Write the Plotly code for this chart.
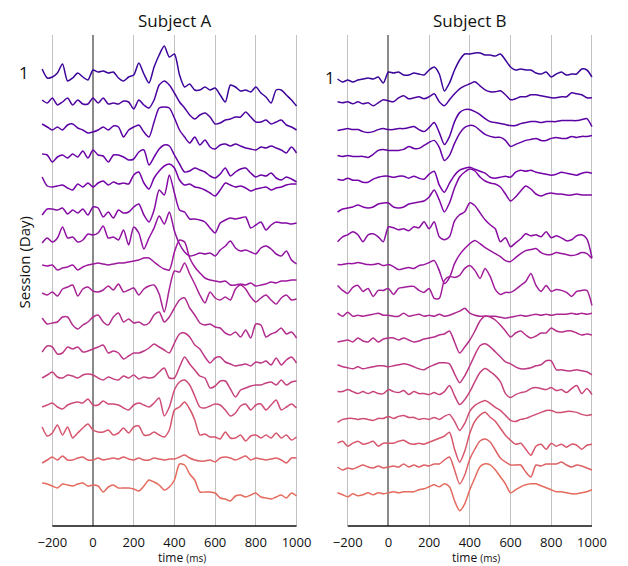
import plotly.graph_objects as go
from plotly.colors import sample_colorscale
import plotly.express as px

# Sample times (ms) shared by every session trace
time_ms = list(range(-250, 1001, 25))

# Tick positions / labels on the time axis
tick_vals = [-200, 0, 200, 400, 600, 800, 1000]
tick_text = ["\u2212200", "0", "200", "400", "600", "800", "1000"]

# ---- Subject A: averaged responses per session (amplitude, arbitrary units) ----
a_day01 = [-1, -10, -9, -5, 4, -13, -10, -5, -9, -12, -2, -4, -3, -5, -4, -10, -13, -9, -7, 5,
           -6, -15, 1, 13, 22, 11, 14, -7, -19, -16, -22, -22, -19, -22, -20, -27, -34, -17, -19, -23,
           -22, -24, -19, -25, -29, -35, -22, -22, -27, -32, -38]
a_day02 = [-4, -7, -2, -9, -6, -2, -9, -4, -8, -8, -2, -7, -2, -8, -7, -8, -5, -6, -13, -4,
           -9, -12, -4, 11, 15, 11, 3, -6, -12, -19, -23, -19, -17, -21, -28, -27, -24, -23, -21, -21,
           -16, -21, -26, -26, -24, -28, -26, -24, -29, -31, -34]
a_day03 = [0, -3, -6, -3, -6, -1, 0, -4, -6, -9, -8, -6, -3, -6, -2, -3, -13, -6, -3, -1,
           -8, -13, 2, 16, 17, 16, 6, -6, -13, -19, -13, -21, -16, -23, -25, -21, -20, -22, -20, -22,
           -24, -25, -26, -23, -24, -22, -24, -26, -29, -23, -29]
a_day04 = [-2, -3, -10, -5, -3, -6, -2, -5, 1, -6, 2, -3, -4, -10, -3, -3, -5, -8, -7, 0,
           2, -13, -5, 3, 7, 6, -3, -12, -20, -19, -16, -18, -20, -24, -26, -22, -16, -24, -20, -17,
           -16, -21, -25, -23, -24, -21, -26, -28, -25, -27, -30]
a_day05 = [3, -6, -7, -6, -5, -8, -10, -4, -7, -3, -7, -3, -1, -5, -2, -4, -3, -4, 5, 8,
           -3, -9, 2, 9, 14, 16, 12, 0, -5, -4, -7, -8, -10, -13, -16, -10, -3, -5, -7, -6,
           -8, -11, -9, -8, -7, -10, -8, -7, -5, -4, -4]
a_day06 = [-7, -1, -1, -2, 0, -6, -2, -5, -1, -7, 1, 0, -9, -4, -10, -2, -5, -4, 1, 4,
           -7, -14, -2, 18, 13, 33, 15, -2, -4, -11, -11, -12, -14, -20, -25, -15, -12, -10, -11, -10,
           -9, -20, -17, -14, -22, -17, -14, -15, -15, -16, -15]
a_day07 = [-7, -2, -6, -2, 9, -2, -1, -6, -4, 2, 1, 3, 10, -2, -1, -4, 6, -9, 9, 3,
           -13, -2, 8, 20, 12, 24, 5, -8, -16, -20, -19, -17, -18, -17, -20, -14, -10, -5, -12, -15,
           -14, -16, -18, -12, -10, -13, -18, -20, -15, -24, -28]
a_day08 = [-1, -2, -1, -6, -4, -3, -1, -6, -3, -1, 0, 1, 0, -1, 0, 1, 1, 2, 3, 4,
           6, 6, 2, -2, -5, -6, 12, 24, 22, 6, -3, -9, -14, -16, -17, -18, -17, -21, -21, -20,
           -21, -19, -22, -21, -20, -18, -19, -17, -17, -16, -16]
a_day09 = [-1, -3, 0, -4, 3, 5, 7, -4, 3, 5, 1, 0, 2, 6, 2, 8, 0, 2, 4, -3,
           3, 6, 7, -2, -20, 3, 21, 20, 29, 18, 8, -3, -11, 0, -6, -8, -5, -8, 3, 7,
           3, -5, -10, -6, -3, -8, -12, -6, -3, -8, -7]
a_day10 = [2, -4, -3, -2, 3, 3, -5, -9, -5, -2, 3, 5, -2, -5, 3, 7, -2, 1, -3, -2,
           -5, -3, 5, 8, -2, 3, 12, 20, 22, 12, 5, -3, -5, -4, -7, -8, -13, -15, -12, -17,
           -10, -18, -4, -5, -17, -14, -12, -8, -14, -12, -18]
a_day11 = [-4, 2, 1, -6, -5, 1, -1, 1, -4, -3, -1, 1, 3, -5, -3, -5, -11, -8, -5, -5,
           -3, 0, 4, 1, -2, -5, 5, 14, 15, 11, 3, -1, -9, -15, -10, -9, -14, -16, -18, -17,
           -16, -18, -14, -15, -13, -17, -10, -17, -12, -9, -15]
a_day12 = [-2, 1, 4, -1, -2, 1, 0, -2, 1, 2, 1, -2, -4, -1, -3, -4, 0, -2, 1, -3,
           -1, -2, -1, 4, 8, -2, -2, 9, 19, 12, 6, 0, -2, -12, -10, -5, -5, -13, -21, -14,
           -12, -10, -9, -9, -7, -6, -9, -4, -9, -6, -5]
a_day13 = [-3, -1, 1, -3, -5, -1, 1, 2, 1, 5, -1, -1, 3, 0, 0, -1, -4, -6, -1, 1,
           -1, -3, 1, 6, -12, -3, 14, 22, 24, 19, 8, -3, -4, -2, 0, -1, -6, -12, -9, -2,
           0, -6, -1, 0, -6, -1, 4, -6, -3, 0, -4]
a_day14 = [5, -4, -1, 7, -3, 5, -6, -1, 4, 8, 2, 0, 0, 2, -3, -1, 4, -1, 5, 6,
           -3, -3, 0, -3, -5, 2, 22, 25, 30, 23, 12, -3, -2, -5, -5, -7, 0, -6, -6, -3,
           -9, -4, -3, -6, -3, -6, -1, -6, -3, -8, -5]
a_day15 = [-3, 0, 3, 0, 4, 0, 0, 2, 3, 0, 0, 2, 0, 1, 2, 1, 3, 1, 0, 2,
           0, 0, 2, 1, 0, 1, 1, 3, 5, 2, 0, -1, -1, 0, -2, 2, 3, 2, 0, 2,
           4, 0, 2, 1, 0, 1, 2, 0, -3, 2, 2]
a_day16 = [5, 4, 2, 0, 4, 3, 2, 4, 5, 2, 3, 2, -4, 1, 3, 0, 0, 0, -1, -3,
           2, 8, 6, 3, -2, 1, 8, 24, 23, 14, 8, -4, -4, -4, -5, -10, -11, -13, -8, -7,
           -9, -7, -5, -9, -10, -11, -9, -7, -10, -5, -8]

# ---- Subject B ----
b_day01 = [1, -2, 0, -2, 0, 1, 2, 1, 3, -3, 8, 7, 8, 5, 5, 7, 6, 5, 10, 13,
           6, -11, -3, 10, 20, 26, 26, 27, 27, 25, 25, 24, 26, 20, 13, 10, 11, 10, 10, 7,
           6, 8, 3, 6, 8, 5, 6, 6, 11, 10, 3]
b_day02 = [4, 3, 4, 2, 4, 2, 3, 0, 3, 6, 5, 4, 8, 10, 7, 8, 9, 7, 9, 12,
           4, 0, 6, 12, 17, 20, 22, 24, 20, 16, 14, 14, 15, 11, 6, 7, 9, 9, 11, 11,
           10, 9, 8, 8, 9, 9, 13, 12, 11, 8, 8]
b_day03 = [1, 2, 3, 2, 2, 0, -1, 0, 2, 3, 2, 2, 3, 3, 4, 5, 2, 0, 4, 9,
           -1, -13, -5, 10, 19, 22, 22, 20, 17, 13, 10, 9, 8, 7, 6, 6, 8, 9, 10, 10,
           9, 10, 10, 10, 11, 11, 11, 11, 12, 13, 5]
b_day04 = [2, 1, 2, 1, 1, 1, 0, 3, 7, 8, 7, 7, 7, 8, 11, 9, 9, 12, 15, 17,
           10, -3, 2, 14, 24, 30, 32, 31, 27, 23, 21, 20, 20, 17, 11, 13, 15, 17, 18, 19,
           17, 17, 19, 20, 19, 19, 21, 20, 21, 21, 22]
b_day05 = [4, 3, 5, 3, 3, 1, 1, 4, 6, 7, 7, 6, 7, 7, 5, 7, 5, 4, 9, 12,
           -2, -9, 0, 8, 13, 15, 16, 14, 12, 10, 6, 5, 6, 7, 6, 11, 13, 12, 13, 11,
           10, 9, 8, 9, 11, 10, 9, 8, 10, 11, 10]
b_day06 = [-3, 0, 1, 2, 4, 2, 1, 2, 5, 6, 6, 2, 1, 2, 5, 6, 7, 8, 12, 19,
           9, -3, 6, 21, 32, 37, 40, 38, 32, 28, 26, 25, 22, 15, 8, 12, 18, 23, 20, 15,
           13, 15, 16, 15, 15, 14, 14, 15, 14, 14, 14]
b_day07 = [-7, -2, 0, 3, 0, -7, 0, 1, -2, -7, 8, 7, 5, 6, 4, 8, 7, 13, 6, 13,
           -2, -5, -2, 14, 20, 23, 32, 29, 22, 15, 10, 6, -7, -3, -12, -8, -4, 1, -1, 0,
           -2, 3, -3, -1, -3, -6, -5, -1, 0, -4, -23]
b_day08 = [-4, -4, -3, -3, -2, -3, -4, -4, -3, -5, -4, -6, -9, -8, -7, -8, -5, -4, -2, 0,
           -10, -23, -17, -3, 6, 12, 17, 20, 17, 13, 10, 7, 4, 0, -1, 3, 7, 10, 11, 12,
           8, 6, 6, 8, 7, 6, 5, 6, 8, 7, 2]
b_day09 = [1, -4, -7, -1, 1, -5, -2, -10, -4, -4, -2, -8, -2, -1, 0, 0, -4, -6, -2, -12,
           -12, 6, 10, 9, 11, 18, 21, 16, 8, 18, 10, -3, -8, -6, -6, -3, 1, 5, 13, 1,
           -5, 1, -5, -3, -4, -6, -10, -5, -4, -4, -19]
b_day10 = [-1, -4, 0, -4, -3, -4, -3, -2, -1, -3, -3, -4, -4, -1, -4, -3, -2, -4, -3, -4,
           -2, -4, -3, -1, 1, 4, -1, -3, -4, -4, -4, -4, -5, -6, -5, -4, -3, -4, -3, -2,
           -3, -2, -3, -2, -2, -2, -1, -2, -1, -2, -1]
b_day11 = [-4, -3, -2, -4, 0, -3, -4, 0, -4, -1, 0, 0, -2, 0, -2, -4, -3, -1, 0, 1,
           3, 4, 7, -4, -15, -9, -2, 7, 17, 22, 21, 18, 13, 7, 1, 5, 7, 3, 0, 2,
           5, 5, 10, 7, 6, 7, 7, 5, 3, 4, 3]
b_day12 = [-1, -3, -4, -5, -3, -5, -4, -3, -2, -2, -3, -2, -1, 0, -1, -3, -5, -6, -3, -1,
           1, 1, 0, -10, -19, -12, -2, 9, 18, 20, 17, 12, 7, 2, 0, -3, -5, -5, -4, -2,
           -1, 3, 3, -6, -6, -7, -7, -6, -7, -8, -11]
b_day13 = [-2, -2, 0, -2, -4, -2, -4, -2, -4, -4, 0, -2, -3, -1, -5, -2, -4, -4, -5, -3,
           -5, -2, 4, -6, -15, -10, -2, 8, 17, 21, 18, 14, 8, -4, -8, -5, -3, -2, 1, 2,
           1, 0, 2, -1, 0, -3, 1, 4, -4, 1, -5]
b_day14 = [-7, -4, -3, -3, -4, -3, -4, -5, -3, -3, -1, -3, -1, 0, -2, -2, -4, -3, -4, -2,
           -4, -1, 1, -6, -15, -8, 4, 10, 13, 15, 12, 8, 5, 0, -5, -6, -4, -3, -1, 1,
           3, 5, 5, 3, 3, 4, 4, 3, 1, 0, 1]
b_day15 = [-2, 0, -5, -2, 0, -3, -2, 0, -5, -2, -2, -2, 0, 1, -2, -3, -2, -3, -1, 1,
           3, 5, 9, -8, -21, -10, 8, 20, 26, 29, 24, 20, 13, 6, 1, -3, -2, -8, -14, -5,
           -3, -8, -2, -5, -3, -6, -3, -4, -8, -4, -3]
b_day16 = [0, -3, -1, -2, 0, 2, 0, -1, 1, -1, 0, 1, 0, 3, 0, 2, 0, 2, 1, 3,
           3, 7, 10, -3, -17, -8, 8, 18, 26, 28, 25, 17, 9, 5, 2, 2, 2, -5, -10, 2,
           1, 3, 3, 3, 5, 2, 0, 2, 1, -1, -3]
b_day17 = [0, -2, -4, -1, -3, -2, 0, -2, 0, -1, 0, 1, 0, 1, 1, 1, 3, 4, 6, 8,
           6, 9, 6, -8, -18, -11, 3, 15, 26, 29, 28, 23, 16, 9, 0, 3, 6, 8, 9, 9,
           7, 5, 3, 1, 1, 0, -1, -1, 0, 1, 3]

subject_a = [a_day01, a_day02, a_day03, a_day04, a_day05, a_day06, a_day07, a_day08,
             a_day09, a_day10, a_day11, a_day12, a_day13, a_day14, a_day15, a_day16]
subject_b = [b_day01, b_day02, b_day03, b_day04, b_day05, b_day06, b_day07, b_day08, b_day09,
             b_day10, b_day11, b_day12, b_day13, b_day14, b_day15, b_day16, b_day17]

for series in subject_a + subject_b:
    if len(series) != len(time_ms):
        raise ValueError("series length mismatch: %d" % len(series))

# vertical gap between consecutive sessions
SPACING_A = 28.0
SPACING_B = 25.8

W, H = 628, 566
FONT = "Open Sans"


def px_x(p):
    return p / W


def px_y(p):
    return (H - p) / H


def session_colors(n):
    pos = [0.09 + 0.53 * i / (n - 1) for i in range(n)]
    return sample_colorscale(px.colors.sequential.Plasma, pos)


fig = go.Figure()

panels = [
    (subject_a, SPACING_A, "x", "y"),
    (subject_b, SPACING_B, "x2", "y2"),
]
for sessions, spacing, xa, ya in panels:
    cols = session_colors(len(sessions))
    for k, amp in enumerate(sessions):
        fig.add_trace(go.Scatter(
            x=time_ms,
            y=[v - k * spacing for v in amp],
            mode="lines",
            line=dict(color=cols[k], width=1.5, shape="spline", smoothing=0.7),
            xaxis=xa, yaxis=ya,
            showlegend=False, hoverinfo="skip",
        ))

y_dom = [px_y(526), px_y(35)]
xaxis_common = dict(
    tickvals=tick_vals, ticktext=tick_text,
    showgrid=True, gridcolor="#c2c2c2", gridwidth=1,
    zeroline=True, zerolinecolor="#8a8a8a", zerolinewidth=2.2,
    showline=False, ticks="outside", ticklen=4, tickcolor="rgba(0,0,0,0)",
    tickfont=dict(family=FONT, size=13, color="#111"),
    fixedrange=True,
)
yaxis_common = dict(showgrid=False, zeroline=False, showticklabels=False,
                    showline=False, ticks="", domain=y_dom, fixedrange=True)

fig.update_layout(
    width=W, height=H, autosize=False,
    margin=dict(l=0, r=0, t=0, b=0),
    paper_bgcolor="white", plot_bgcolor="white",
    font=dict(family=FONT, color="#111"),
    xaxis=dict(domain=[px_x(38), px_x(303)], range=[-260.7, 1006.2], anchor="y", **xaxis_common),
    yaxis=dict(range=[-458, 33], anchor="x", **yaxis_common),
    xaxis2=dict(domain=[px_x(342), px_x(607)], range=[-258.8, 1008.0], anchor="y2", **xaxis_common),
    yaxis2=dict(range=[-446, 45], anchor="x2", **yaxis_common),
)

# bottom spine spanning only the labelled time range
for xr, yr in [("x", "y domain"), ("x2", "y2 domain")]:
    fig.add_shape(type="line", xref=xr, yref=yr, x0=-200, x1=1000, y0=0, y1=0,
                  line=dict(color="#111", width=1.3), layer="above")

notes = [
    dict(text="Subject A", x=px_x(176.5), y=px_y(20), size=17),
    dict(text="Subject B", x=px_x(480), y=px_y(20), size=17),
    dict(text="1", x=px_x(22), y=px_y(72), size=17),
    dict(text="1", x=px_x(336), y=px_y(78), size=17),
    dict(text="time <span style='font-size:10px'>(ms)</span>", x=px_x(184), y=px_y(557), size=12),
    dict(text="time <span style='font-size:10px'>(ms)</span>", x=px_x(486), y=px_y(557), size=12),
]
for n in notes:
    fig.add_annotation(text=n["text"], x=n["x"], y=n["y"], xref="paper", yref="paper",
                       xanchor="center", yanchor="middle", showarrow=False,
                       font=dict(family=FONT, size=n["size"], color="#111"))

fig.add_annotation(text="Session (Day)", x=px_x(22), y=px_y(262), xref="paper", yref="paper",
                   xanchor="center", yanchor="middle", showarrow=False, textangle=-90,
                   font=dict(family=FONT, size=15, color="#111"))

fig.write_html("out.html", config={"responsive": False, "displayModeBar": False})
